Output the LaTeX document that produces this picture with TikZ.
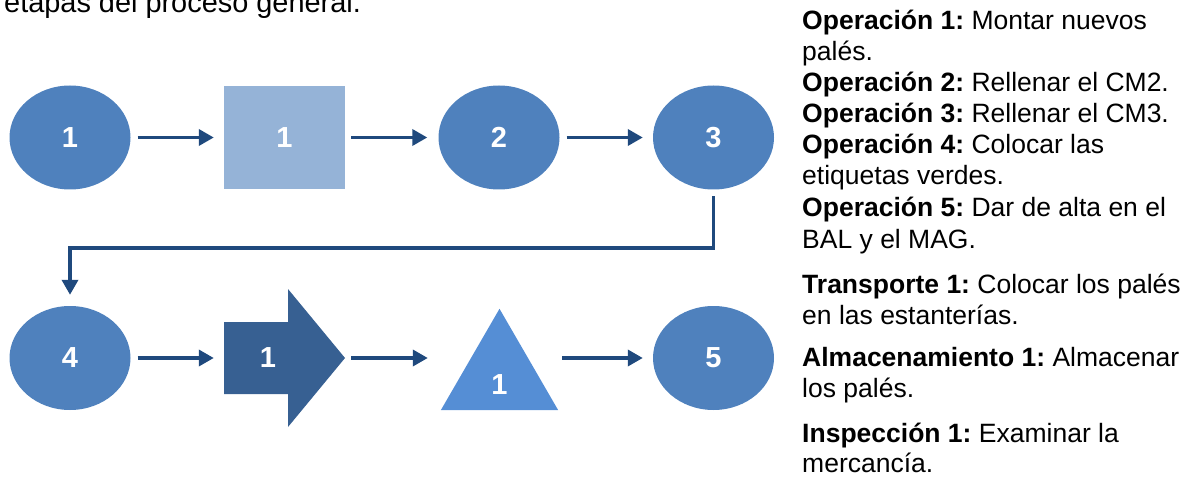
\documentclass[tikz,border=0pt]{standalone}
\usepackage{fontspec}
\setmainfont{Liberation Sans}
\usetikzlibrary{arrows.meta,shapes.geometric}

\definecolor{ovalblue}{HTML}{4F81BD}
\definecolor{boxblue}{HTML}{95B3D7}
\definecolor{movblue}{HTML}{376092}
\definecolor{triblue}{HTML}{558ED5}
\definecolor{lineblue}{HTML}{1F497D}

\begin{document}
\frenchspacing
\begin{tikzpicture}[x=1pt,y=-1pt,
  oval/.style={ellipse, fill=ovalblue, minimum width=121pt, minimum height=104pt,
    inner sep=0pt, text=white, font=\bfseries\fontsize{29}{32}\selectfont},
  opbox/.style={rectangle, fill=boxblue, minimum width=121pt, minimum height=103pt,
    inner sep=0pt, text=white, font=\bfseries\fontsize{29}{32}\selectfont},
  tag/.style={inner sep=0pt, text=white, font=\bfseries\fontsize{29}{32}\selectfont},
  flow/.style={draw=lineblue, line width=3.5pt, -{Triangle[length=15pt,width=16pt]}},
  legend/.style={anchor=base west, inner sep=0pt, font=\fontsize{26.5}{30.5}\selectfont},
]
\useasboundingbox (0,0) rectangle (1199,481);
\clip (0,0) rectangle (1199,481);

% running text above the chart
\node[anchor=base west, inner sep=0pt, font=\fontsize{28.9}{33}\selectfont] (intro) at (4,12.5) {etapas del proceso general.};

% top row
\node[oval]  (e1) at (70,137.5)    {1};
\node[opbox] (sq) at (284.5,137.5) {1};
\node[oval]  (e2) at (499,137.5)   {2};
\node[oval]  (e3) at (713.5,137.5) {3};

% bottom row
\node[oval]  (e4) at (70,358)      {4};
\node[inner sep=0pt, minimum width=121pt, minimum height=138pt] (mv) at (284.5,358) {};
\fill[movblue] (224,322) -- (288,322) -- (288,289) -- (345,358) -- (288,427) -- (288,394) -- (224,394) -- cycle;
\node[tag] (mvlabel) at (268,358) {1};
\node[inner sep=0pt, minimum width=117pt, minimum height=101pt] (tri) at (499.5,359.5) {};
\fill[triblue] (tri.south west) -- (tri.north) -- (tri.south east) -- cycle;
\node[tag] (trilabel) at (499.5,385) {1};
\node[oval]  (e5) at (713.5,358)   {5};

% connectors
\draw[flow, shorten <=7pt, shorten >=10pt] (e1.east) -- (sq.west);
\draw[flow, shorten <=6pt, shorten >=11pt] (sq.east) -- (e2.west);
\draw[flow, shorten <=7pt, shorten >=10pt] (e2.east) -- (e3.west);
\coordinate (turn) at (0,248);
\draw[flow, shorten <=6.5pt, shorten >=11pt] (e3.south) -- (e3.south |- turn) -| (e4.north);
\draw[flow, shorten <=7pt, shorten >=10pt] (e4.east) -- (mv.west);
\draw[flow, shorten <=6pt, shorten >=13pt] (mv.east) -- (mv.east -| tri.west);
\draw[flow, shorten <=4pt, shorten >=10pt] (tri.east |- e5.west) -- (e5.west);

% legend
\node[legend] (l1)  at (802,30)  {\textbf{Operación 1:} Montar nuevos};
\node[legend] (l2)  at (802,61)  {palés.};
\node[legend] (l3)  at (802,92)  {\textbf{Operación 2:} Rellenar el CM2.};
\node[legend] (l4)  at (802,123) {\textbf{Operación 3:} Rellenar el CM3.};
\node[legend] (l5)  at (802,154) {\textbf{Operación 4:} Colocar las};
\node[legend] (l6)  at (802,185) {etiquetas verdes.};
\node[legend] (l7)  at (802,216) {\textbf{Operación 5:} Dar de alta en el};
\node[legend] (l8)  at (802,248) {BAL y el MAG.};
\node[legend] (l9)  at (802,293) {\textbf{Transporte 1:} Colocar los palés};
\node[legend] (l10) at (802,324) {en las estanterías.};
\node[legend] (l11) at (802,366) {\textbf{Almacenamiento 1:} Almacenar};
\node[legend] (l12) at (802,397) {los palés.};
\node[legend] (l13) at (802,442) {\textbf{Inspección 1:} Examinar la};
\node[legend] (l14) at (802,472) {mercancía.};
\end{tikzpicture}
\end{document}
